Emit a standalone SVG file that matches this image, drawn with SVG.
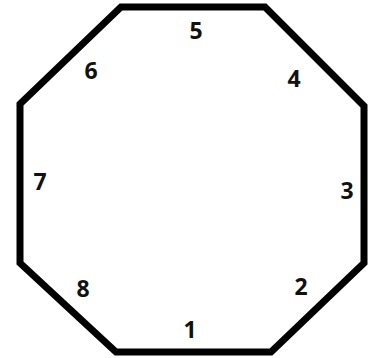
<svg xmlns="http://www.w3.org/2000/svg" width="370" height="358" viewBox="0 0 370 358">
<style>
.edge{fill:none;stroke:#000;stroke-width:7;stroke-linejoin:miter}
.lbl{font-family:"Open Sans","Liberation Sans",sans-serif;font-weight:bold;font-size:23px;fill:#111;text-anchor:middle}
</style>
<rect width="370" height="358" fill="#fff"/>
<g id="connectors">
<polygon class="edge" points="121,7 265,7 364,106 364,263 271,352 116,352 20,263 20,104"/>
</g>
<g id="n1"><text class="lbl" x="190" y="338">1</text></g>
<g id="n2"><text class="lbl" x="301" y="295">2</text></g>
<g id="n3"><text class="lbl" x="347" y="199">3</text></g>
<g id="n4"><text class="lbl" x="294" y="87">4</text></g>
<g id="n5"><text class="lbl" x="196" y="39">5</text></g>
<g id="n6"><text class="lbl" x="91" y="79">6</text></g>
<g id="n7"><text class="lbl" x="40" y="190">7</text></g>
<g id="n8"><text class="lbl" x="83" y="297">8</text></g>
</svg>
